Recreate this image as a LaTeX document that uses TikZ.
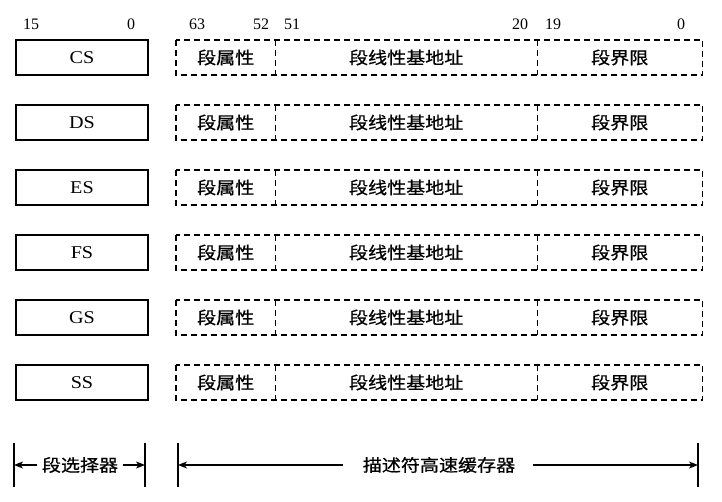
\documentclass[tikz,border=0pt]{standalone}
\usepackage{fontspec}
\setmainfont{Liberation Serif}
\newfontfamily\cjk[FakeBold=0.6]{Noto Sans CJK SC}
\usetikzlibrary{arrows.meta}
\newcommand{\wide}[1]{\scalebox{1.12}[1]{#1}}
\begin{document}
\begin{tikzpicture}[x=1pt,y=-1pt,
  selbox/.style={draw,line width=1.6pt,minimum width=132pt,minimum height=35pt,inner sep=0pt,font=\fontsize{18}{20}\selectfont},
  seg/.style={minimum height=35pt,inner sep=0pt,anchor=west,font=\cjk\fontsize{17}{19}\selectfont},
  dashbox/.style={draw,line width=1.6pt,dash pattern=on 6pt off 4pt},
  num/.style={font=\fontsize{16}{18}\selectfont,inner sep=0pt},
  bar/.style={line width=1.6pt},
  dimarrow/.style={line width=1.1pt,-{Stealth[length=9pt,width=7pt,inset=2.5pt]}},
  lab/.style={font=\cjk\fontsize{17}{19}\selectfont,inner sep=0pt}]
\useasboundingbox (0,0) rectangle (722,502);
% header numbers
\node[num] (n15) at (31,24) {15};
\node[num] (n0a) at (131,24) {0};
\node[num] (n63) at (197,24) {63};
\node[num] (n52) at (261,24) {52};
\node[num] (n51) at (292,24) {51};
\node[num] (n20) at (520,24) {20};
\node[num] (n19) at (553,24) {19};
\node[num] (n0b) at (681,24) {0};
% rows
\foreach \r/\nm [count=\i from 0] in {CS/cs,DS/ds,ES/es,FS/fs,GS/gs,SS/ss}{
  \pgfmathsetmacro{\yc}{57.5+65*\i}
  \node[selbox] (\nm) at (82,\yc) {\wide{\r}};
  \node[seg,minimum width=99pt] (\nm attr) at (176,\yc) {\wide{段属性}};
  \node[seg,minimum width=262pt] (\nm base) at (275,\yc) {\wide{段线性基地址}};
  \node[seg,minimum width=165pt] (\nm lim) at (537,\yc) {\wide{段界限}};
  \draw[dashbox] (\nm attr.north west) rectangle (\nm lim.south east);
  \draw[dashbox] (\nm attr.north east) -- (\nm attr.south east);
  \draw[dashbox] (\nm base.north east) -- (\nm base.south east);
}
% bottom dimension lines
\coordinate (b1t) at (14,443); \coordinate (b1b) at (14,487);
\coordinate (b2t) at (145,443); \coordinate (b2b) at (145,487);
\coordinate (b3t) at (178,443); \coordinate (b3b) at (178,487);
\coordinate (b4t) at (698,443); \coordinate (b4b) at (698,487);
\draw[bar] (b1t) -- (b1b);
\draw[bar] (b2t) -- (b2b);
\draw[bar] (b3t) -- (b3b);
\draw[bar] (b4t) -- (b4b);
\node[lab] (sel) at (80,465) {\wide{段选择器}};
\node[lab] (cache) at (439,465) {\wide{描述符高速缓存器}};
\coordinate (a1) at (14,465); \coordinate (a2) at (145,465);
\coordinate (a3) at (178,465); \coordinate (a4) at (698,465);
\draw[dimarrow] (sel.west) ++(-5,0) -- (a1);
\draw[dimarrow] (sel.east) ++(5,0) -- (a2);
\draw[dimarrow] (cache.west) ++(-20,0) -- (a3);
\draw[dimarrow] (cache.east) ++(18,0) -- (a4);
\end{tikzpicture}
\end{document}
